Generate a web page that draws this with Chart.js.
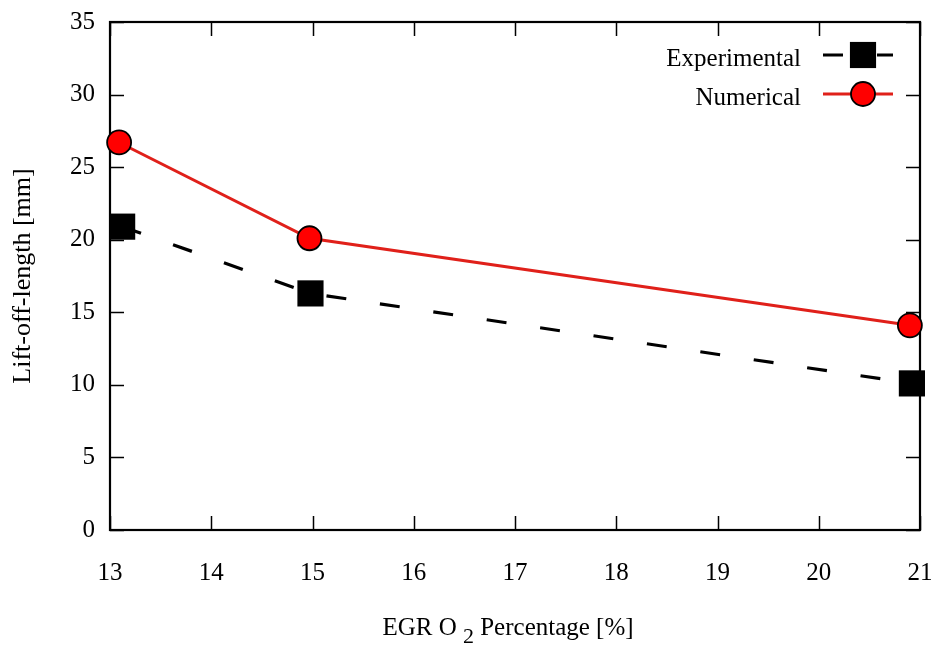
<!DOCTYPE html>
<html>
<head>
<meta charset="utf-8">
<script src="https://cdn.jsdelivr.net/npm/chart.js@4"></script>
<style>
    html, body { margin: 0; padding: 0; background: #fff; }
    #wrap { width: 939px; height: 646px; }
</style>
</head>
<body>
<div id="wrap"><canvas id="lolChart" width="939" height="646"></canvas></div>
<script>
// values
const expX = [13.12, 14.98, 20.92];
const expY = [20.9, 16.3, 10.1];
const numX = [13.09, 14.97, 20.90];
const numY = [26.7, 20.1, 14.1];
const seriesNames = ['Experimental', 'Numerical'];
const xTicks = [13, 14, 15, 16, 17, 18, 19, 20, 21];
const yTicks = [0, 5, 10, 15, 20, 25, 30, 35];

const FONT = 'Liberation Serif';
const TICK_LEN = 14;

function toPoints(xs, ys) {
    return xs.map((x, i) => ({ x: x, y: ys[i] }));
}

// gnuplot-like frame: box plus inward ticks on all four sides
const framePlugin = {
    id: 'frame',
    beforeDatasetsDraw(chart) {
        const ctx = chart.ctx;
        const a = chart.chartArea;
        const xs = chart.scales.x, ys = chart.scales.y;
        ctx.save();
        ctx.strokeStyle = '#000';
        ctx.lineWidth = 1.5;
        ctx.beginPath();
        xTicks.forEach(v => {
            const px = Math.round(xs.getPixelForValue(v)) + 0.5;
            ctx.moveTo(px, a.bottom); ctx.lineTo(px, a.bottom - TICK_LEN);
            ctx.moveTo(px, a.top); ctx.lineTo(px, a.top + TICK_LEN);
        });
        yTicks.forEach(v => {
            const py = Math.round(ys.getPixelForValue(v)) + 0.5;
            ctx.moveTo(a.left, py); ctx.lineTo(a.left + TICK_LEN, py);
            ctx.moveTo(a.right, py); ctx.lineTo(a.right - TICK_LEN, py);
        });
        ctx.stroke();
        ctx.lineWidth = 2.2;
        ctx.strokeRect(a.left, a.top, a.right - a.left, a.bottom - a.top);
        ctx.restore();
    },
    afterDraw(chart) {
        const ctx = chart.ctx;
        const a = chart.chartArea;
        ctx.save();
        ctx.fillStyle = '#000';
        ctx.textBaseline = 'middle';

        // x axis title with subscript
        const main = '25px "' + FONT + '"';
        const sub = '22px "' + FONT + '"';
        const p1 = 'EGR O ', p2 = '2', p3 = ' Percentage [%]';
        ctx.font = main;
        const w1 = ctx.measureText(p1).width, w3 = ctx.measureText(p3).width;
        ctx.font = sub;
        const w2 = ctx.measureText(p2).width;
        let x = 508 - (w1 + w2 + w3) / 2;
        const y = 628;
        ctx.textAlign = 'left';
        ctx.font = main; ctx.fillText(p1, x, y); x += w1;
        ctx.font = sub; ctx.fillText(p2, x, y + 9); x += w2;
        ctx.font = main; ctx.fillText(p3, x, y);

        // legend, top right inside plot
        const rows = [
            { label: seriesNames[0], y: a.top + 33, ds: chart.data.datasets[0] },
            { label: seriesNames[1], y: a.top + 72, ds: chart.data.datasets[1] }
        ];
        rows.forEach(r => {
            ctx.font = main;
            ctx.textAlign = 'right';
            ctx.fillStyle = '#000';
            ctx.fillText(r.label, 801, r.y + 4);
            ctx.save();
            ctx.strokeStyle = r.ds.borderColor;
            ctx.lineWidth = r.ds.borderWidth;
            ctx.setLineDash(r.ds.borderDash || []);
            ctx.beginPath();
            ctx.moveTo(823, r.y); ctx.lineTo(893, r.y);
            ctx.stroke();
            ctx.restore();
            ctx.save();
            ctx.fillStyle = r.ds.pointBackgroundColor;
            ctx.strokeStyle = r.ds.pointBorderColor;
            ctx.lineWidth = r.ds.pointBorderWidth;
            Chart.helpers.drawPoint(ctx, {
                pointStyle: r.ds.pointStyle,
                radius: r.ds.pointRadius,
                borderWidth: r.ds.pointBorderWidth,
                rotation: 0
            }, 863, r.y);
            ctx.restore();
        });
        ctx.restore();
    }
};

const ctx = document.getElementById('lolChart').getContext('2d');
new Chart(ctx, {
    type: 'scatter',
    data: {
        datasets: [{
            label: seriesNames[0],
            data: toPoints(expX, expY),
            showLine: true,
            borderColor: '#000',
            borderWidth: 3.2,
            borderDash: [20, 34],
            pointStyle: 'rect',
            pointRadius: 18.5,
            pointBorderWidth: 0,
            pointBackgroundColor: '#000',
            pointBorderColor: '#000',
            clip: false
        }, {
            label: seriesNames[1],
            data: toPoints(numX, numY),
            showLine: true,
            borderColor: '#e0201a',
            borderWidth: 3,
            pointStyle: 'circle',
            pointRadius: 12,
            pointBorderWidth: 1.8,
            pointBackgroundColor: '#ff0000',
            pointBorderColor: '#000',
            clip: false
        }]
    },
    options: {
        responsive: false,
        animation: false,
        layout: { padding: { left: 0, right: 19, top: 22, bottom: 0 } },
        plugins: {
            legend: { display: false },
            tooltip: { enabled: false }
        },
        scales: {
            x: {
                type: 'linear',
                min: 13,
                max: 21,
                afterBuildTicks: s => { s.ticks = xTicks.map(v => ({ value: v })); },
                afterFit: s => { s.height = 116; s.paddingLeft = 0; s.paddingRight = 0; },
                grid: { display: false, drawTicks: false },
                border: { display: false },
                ticks: { color: '#000', padding: 28, font: { family: FONT, size: 25 } }
            },
            y: {
                type: 'linear',
                min: 0,
                max: 35,
                afterBuildTicks: s => { s.ticks = yTicks.map(v => ({ value: v })); },
                afterFit: s => { s.width = 110; s.paddingTop = 0; s.paddingBottom = 0; },
                grid: { display: false, drawTicks: false },
                border: { display: false },
                ticks: { color: '#000', padding: 15, font: { family: FONT, size: 25 } },
                title: {
                    display: true,
                    text: 'Lift-off-length [mm]',
                    color: '#000',
                    font: { family: FONT, size: 26 },
                    padding: { top: 8, bottom: 0 }
                }
            }
        }
    },
    plugins: [framePlugin]
});
</script>
</body>
</html>
